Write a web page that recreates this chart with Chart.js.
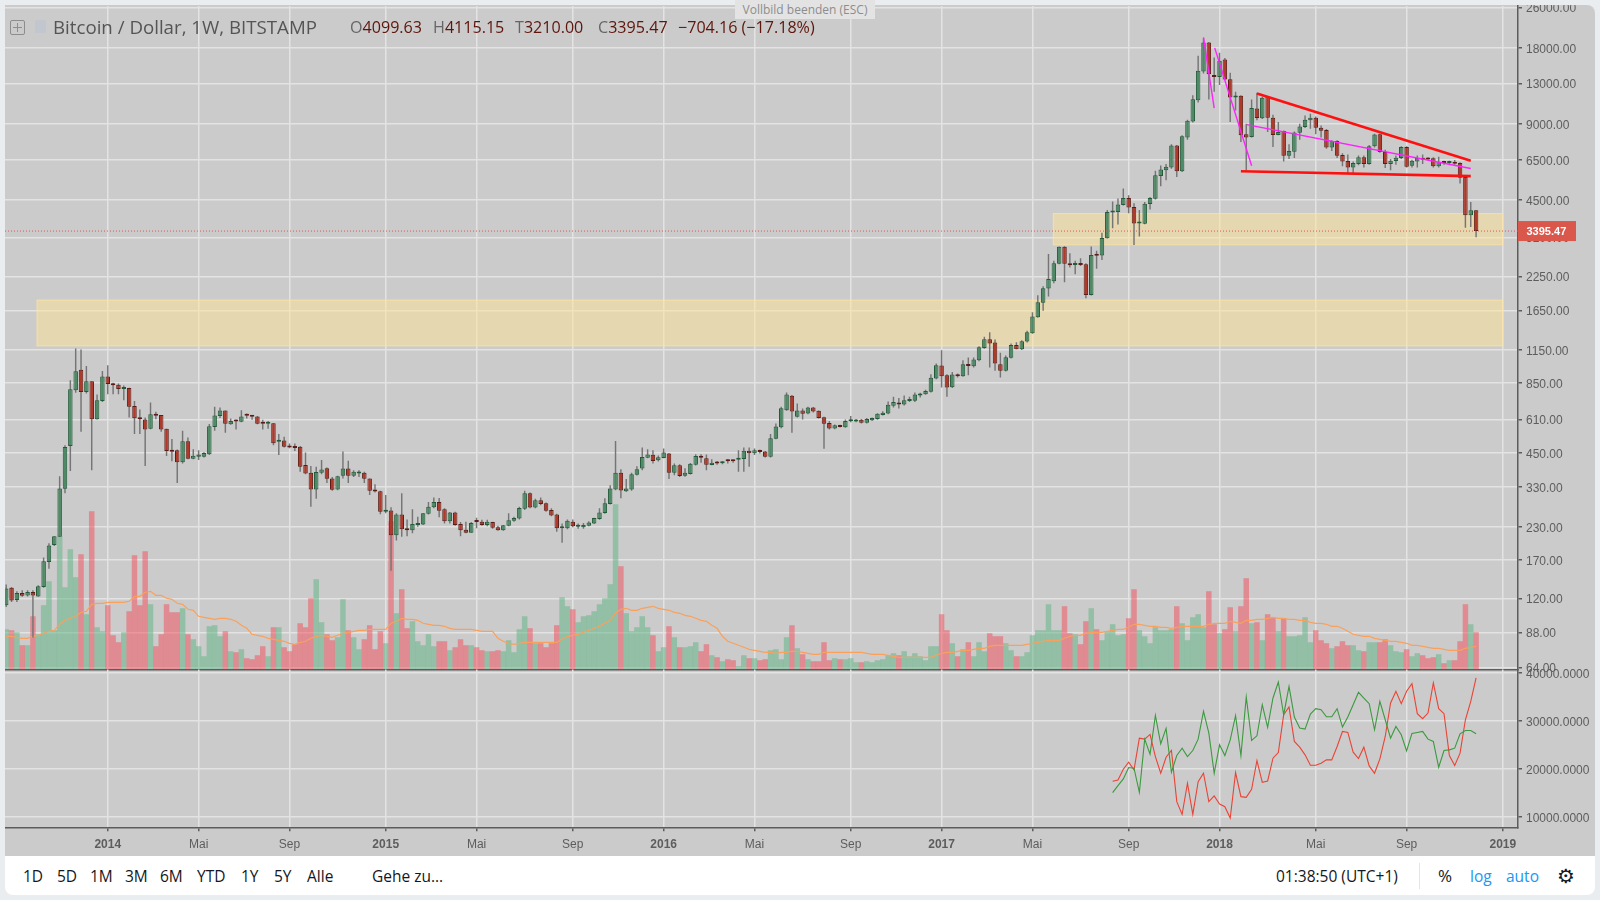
<!DOCTYPE html>
<html lang="de">
<head>
<meta charset="utf-8">
<title>Bitcoin / Dollar, 1W, BITSTAMP</title>
<script src="https://cdn.jsdelivr.net/npm/chart.js@4"></script>
<style>
  html, body { margin: 0; padding: 0; width: 1600px; height: 900px; overflow: hidden; background: #e9edf0; }
  #panel { position: absolute; left: 5px; top: 5px; width: 1590px; height: 851px; background: #cbcbcb; overflow: hidden; border-radius: 0 8px 0 0; }
  #panel canvas { position: absolute; left: 0; }
  #chartMain { top: 0; }
  #chartLower { top: 655px; }
  .txt { position: absolute; white-space: nowrap; font-family: "Open Sans", sans-serif; }
  #title { left: 53px; top: 15px; font-size: 18.7px; line-height: 24px; color: #555; }
  .ohlc { top: 15px; font-size: 16.1px; line-height: 24px; color: #5e150c; }
  .ohlc b { font-weight: 400; color: #666; }
  #plusBox { position: absolute; left: 10px; top: 20px; width: 13px; height: 13px; border: 1px solid #8d8d8d; border-radius: 2px; }
  #plusBox:before { content: ""; position: absolute; left: 2px; right: 2px; top: 6px; height: 1px; background: #8d8d8d; }
  #plusBox:after { content: ""; position: absolute; top: 2px; bottom: 2px; left: 6px; width: 1px; background: #8d8d8d; }
  #flag { position: absolute; left: 35px; top: 20px; width: 11px; height: 13px; background: #c2c6cf; }
  #esc { position: absolute; left: 735px; top: 0; width: 140px; height: 19px; background: #e3e3e3; color: #8d8d8d; font: 12px/19px "Open Sans", sans-serif; text-align: center; }
  #toolbar { position: absolute; left: 5px; top: 856px; width: 1590px; height: 39px; background: #fff; border-radius: 0 0 8px 8px; }
  #toolbar .txt { top: 9px; font-size: 15.5px; line-height: 22px; color: #131722; }
  #sep { position: absolute; left: 1414px; top: 7px; width: 1px; height: 26px; background: #e4e4e4; }
</style>
</head>
<body>
<div id="panel">
  <canvas id="chartMain" width="1590" height="675"></canvas>
  <canvas id="chartLower" width="1590" height="196"></canvas>
</div>
<div id="plusBox"></div>
<div id="flag"></div>
<div class="txt" id="title">Bitcoin / Dollar, 1W, BITSTAMP</div>
<div class="txt ohlc" style="left:350px"><b>O</b>4099.63</div>
<div class="txt ohlc" style="left:433px"><b>H</b>4115.15</div>
<div class="txt ohlc" style="left:515px"><b>T</b>3210.00</div>
<div class="txt ohlc" style="left:598px"><b>C</b>3395.47</div>
<div class="txt ohlc" style="left:678px">−704.16 (−17.18%)</div>
<div id="esc">Vollbild beenden (ESC)</div>
<div id="toolbar">
  <span class="txt" style="left:18px">1D</span>
  <span class="txt" style="left:52px">5D</span>
  <span class="txt" style="left:85px">1M</span>
  <span class="txt" style="left:120px">3M</span>
  <span class="txt" style="left:155px">6M</span>
  <span class="txt" style="left:192px">YTD</span>
  <span class="txt" style="left:236px">1Y</span>
  <span class="txt" style="left:269px">5Y</span>
  <span class="txt" style="left:302px">Alle</span>
  <span class="txt" style="left:367px">Gehe zu…</span>
  <span class="txt" style="left:1271px">01:38:50 (UTC+1)</span>
  <div id="sep"></div>
  <span class="txt" style="left:1433px;font-size:17px">%</span>
  <span class="txt" style="left:1465px;color:#2196f3">log</span>
  <span class="txt" style="left:1501px;color:#2196f3">auto</span>
  <span class="txt" style="left:1552px;font-family:'DejaVu Sans';font-size:20px">⚙</span>
</div>

<script>
// kerzen, eine pro woche
const opens = [
  112.5,132,118,126,123,127,122,133,167,195,
  210,325,480,798,960,785,866,612,722,904,
  848,838,806,813,690,622,611,562,641,636,
  561,462,462,414,501,427,435,435,445,571,
  630,663,585,607,598,637,634,628,592,587,
  590,499,504,480,474,477,404,376,323,376,
  392,357,323,366,391,366,374,376,357,321,
  318,264,267,213,257,225,223,234,235,259,
  275,288,270,242,262,236,224,218,241,241,
  234,240,229,223,232,243,248,271,312,274,
  293,285,268,257,227,227,241,230,229,232,
  237,247,261,283,323,376,318,323,369,391,
  431,443,421,430,448,376,403,366,372,405,
  439,429,404,412,410,424,422,423,426,460,
  449,458,456,435,513,569,665,758,626,663,
  645,682,661,624,591,563,578,569,601,600,
  609,593,607,613,637,645,692,713,700,722,
  724,760,769,786,888,998,914,820,922,906,
  1011,992,1048,1172,1268,1231,1011,951,1071,1204,
  1158,1241,1339,1550,1766,2012,2150,2520,2945,2533,
  2490,2510,2510,1895,2730,2720,3180,4020,4040,4300,
  4590,4230,3640,3630,4340,4560,5600,5900,6060,7390,
  5850,7950,9200,11180,14500,18880,14000,13800,16200,13520,
  11450,11630,8200,8000,10370,9480,11520,9520,8140,8440,
  6740,6990,8300,8750,9300,9530,8700,8520,7260,7710,
  6780,6420,6060,6250,6640,6250,7350,8190,6970,6250,
  6420,6600,7300,6150,6400,6600,6580,6580,6120,6370,
  6310,6370,6310,5550,3920,4099.63
];
const highs = [
  136,133,128,129,129,129,135,174,198,211,
  364,483,874,1165,1155,993,866,766,950,1001,
  854,848,832,816,722,669,622,713,655,636,
  561,512,465,551,518,466,462,453,586,686,
  682,663,616,611,665,645,637,630,610,603,
  592,535,522,491,491,480,452,400,397,422,
  395,362,366,456,420,385,385,380,357,339,
  319,307,275,260,312,246,270,252,261,288,
  300,299,272,263,264,240,241,240,250,245,
  245,241,232,234,260,252,276,319,314,297,
  300,287,272,259,237,246,246,237,238,242,
  250,272,298,336,502,388,355,376,399,473,
  466,462,440,469,450,409,406,392,411,445,
  445,444,425,419,419,426,424,462,473,473,
  469,465,459,535,589,686,781,763,707,675,
  686,684,663,626,603,583,582,611,630,613,
  613,619,622,647,659,720,751,742,760,751,
  781,779,800,922,1017,1148,922,942,928,1048,
  1074,1074,1190,1296,1352,1265,1121,1094,1220,1235,
  1257,1369,1621,1894,2056,2757,2590,2950,2960,2775,
  2590,2650,2533,2950,2840,3340,4112,4440,4570,5000,
  4700,4370,4110,4420,4630,5880,6160,6250,7480,7440,
  8120,9360,11700,16730,19600,19000,16500,17200,16400,14350,
  12060,11700,9020,11250,11950,11520,11590,9780,9160,8490,
  7480,8410,9020,9720,9870,9640,8880,8600,7760,7760,
  6890,6810,6400,6750,6750,7430,8240,8240,7110,6540,
  6750,7350,7350,6500,6750,6810,6640,6640,6680,6440,
  6440,6490,6350,5590,4420,4115.15
];
const lows = [
  110.8,116,116,121.6,122,84,121.6,132,157,193,
  210,312,382,779,546,774,385,611,716,769,
  769,769,728,622,535,535,400,559,612,546,
  438,418,343,409,425,425,422,432,442,551,
  619,541,582,557,595,616,610,585,557,561,
  483,442,473,470,459,380,371,276,297,371,
  343,319,321,357,343,362,362,343,307,314,
  258,260,154,203,210,211,217,230,234,257,
  272,251,237,237,232,211,217,218,227,232,
  231,226,222,222,231,241,246,268,272,272,
  280,264,253,220,199,225,229,226,226,231,
  236,245,259,282,321,298,316,319,367,385,
  429,409,417,429,355,368,362,363,370,402,
  412,385,403,405,406,409,412,380,380,397,
  442,448,432,432,510,564,661,541,622,611,
  641,651,616,468,557,559,568,566,596,596,
  589,589,603,609,633,641,682,675,694,716,
  716,747,765,781,881,818,751,813,896,901,
  914,980,1038,1162,980,951,896,945,1065,1158,
  1151,1231,1332,1541,1642,1871,2112,2510,2130,2435,
  2290,2470,1840,1890,2410,2610,3170,3480,3600,4280,
  3990,2990,3230,3610,4130,4530,5100,5390,5980,5550,
  5810,7800,9130,10940,14260,11250,12070,12830,13430,9160,
  10180,7640,5900,7950,9300,9420,8360,7300,8120,6400,
  6540,6600,7800,8680,8620,8190,7950,7190,7030,6600,
  6130,5760,5760,6180,6060,6210,7260,6930,6030,5900,
  6210,6540,6060,6060,6060,6250,6440,6060,6060,6210,
  6250,6210,5230,3500,3520,3210
];
const closes = [
  131,117.7,126,122.7,127,123,134,168,194,211,
  326,476,804,947,785,866,612,728,904,843,
  835,806,813,686,618,612,557,641,632,557,
  459,455,414,501,427,439,444,450,575,633,
  663,587,603,600,628,632,626,587,587,592,
  492,506,477,473,471,397,374,323,379,387,
  356,322,364,391,366,380,380,356,319,317,
  264,268,213,257,225,223,236,237,260,276,
  288,266,242,262,234,223,218,238,240,234,
  241,228,223,233,244,249,273,312,274,293,
  283,266,255,227,229,243,231,232,234,239,
  249,262,285,326,376,320,326,371,388,434,
  444,419,433,452,376,403,365,376,408,438,
  431,405,412,409,416,418,418,429,460,449,
  462,454,435,515,573,677,767,657,663,643,
  682,657,619,587,563,580,571,603,611,609,
  593,613,619,643,649,698,716,700,728,731,
  767,774,791,893,1001,906,818,920,906,1011,
  995,1054,1180,1268,1220,1017,951,1077,1204,1158,
  1245,1352,1560,1777,2019,2192,2533,2945,2520,2485,
  2520,2490,1895,2730,2710,3190,4040,4060,4320,4590,
  4210,3640,3670,4350,4590,5640,5950,6100,7390,5850,
  8050,9270,11270,14600,18880,14150,13800,16000,13500,11450,
  11630,8120,7960,10400,9500,11420,9520,8140,8360,6740,
  7030,8320,8800,9360,9530,8700,8460,7260,7710,6740,
  6400,6060,6310,6640,6250,7350,8170,6970,6250,6440,
  6620,7300,6100,6440,6600,6500,6520,6120,6350,6310,
  6370,6270,5510,3920,4100,3395.47
];

// volumen, einheit frei gewaehlt da keine achse im bild
const volumes = [
  40,39,37,24,24,53,35,64,88,39,
  133,82,120,92,115,55,158,42,38,64,
  34,27,37,58,114,64,118,65,23,35,
  65,57,57,61,35,30,23,13,43,44,
  33,38,18,17,20,11,10,14,23,13,
  42,42,22,18,25,46,42,71,90,47,
  35,29,32,70,39,32,20,30,44,20,
  38,26,148,56,80,41,48,28,24,35,
  23,28,28,19,22,30,24,24,22,19,
  18,18,19,18,29,17,40,53,41,26,
  26,22,26,44,72,63,60,47,53,54,
  58,65,71,85,165,103,56,38,42,53,
  42,34,18,22,43,32,22,22,23,27,
  18,25,14,12,8,10,9,3,14,11,
  11,9,10,19,20,10,32,44,21,15,
  10,8,8,27,9,11,10,10,11,7,
  7,8,7,9,10,14,16,14,18,13,
  16,13,9,23,23,55,39,26,13,20,
  27,13,27,18,36,33,33,26,19,13,
  13,17,34,39,39,65,39,39,63,36,
  35,25,48,61,40,29,38,45,34,35,
  51,80,39,33,26,42,39,39,40,63,
  46,29,52,55,42,78,45,36,40,62,
  38,63,91,46,47,29,55,52,38,51,
  33,33,34,52,27,39,29,26,21,23,
  28,24,24,19,18,27,27,27,30,24,
  18,17,20,13,16,14,11,12,15,6,
  9,9,28,65,45,37
];
const volumeMa = [
  33,33,32,31,31,33,34,36,38,39,45,49,51,53,57,58,65,66,66,67,67,67,67,68,73,
  73,77,78,74,74,71,70,66,65,60,59,53,52,51,50,51,51,50,48,44,41,35,34,33,31,
  30,29,28,26,25,27,28,31,33,34,33,32,34,36,37,38,39,39,40,40,40,40,46,48,
  51,50,50,49,46,45,44,44,43,41,40,40,40,40,39,38,38,38,31,28,26,25,26,27,27,
  27,27,27,27,27,30,33,34,35,37,39,41,43,46,49,56,60,61,59,59,61,62,63,61,60,
  59,57,56,54,53,51,49,48,44,41,33,28,26,24,22,20,19,18,17,17,16,
  17,17,18,18,17,16,15,15,17,17,17,17,17,17,17,17,16,15,15,15,14,13,12,12,12,
  12,12,12,12,14,16,17,17,18,19,19,20,21,21,23,24,24,24,24,24,24,25,26,27,28,
  29,29,29,31,33,34,34,36,37,37,37,38,39,40,40,42,45,45,44,43,43,
  42,42,41,42,43,43,43,43,43,45,46,46,46,48,47,46,49,49,50,50,51,52,51,51,50,
  50,49,49,47,46,46,45,43,43,41,38,35,34,33,33,31,30,29,28,28,27,26,24,24,23,
  22,21,21,20,19,19,19,21,22,23
];

// unterer bereich, beginnt erst bei kerze 207
const lowerStart = 207;
const lowerGreen = [
  15030,16490,17890,20260,20120,15100,26190,23050,31150,25220,
  28430,19280,22770,24310,22560,23820,26190,31990,27450,19070,
  25010,22770,26050,31080,22770,34990,25910,26890,33380,28640,
  34780,38130,31290,37220,30800,28500,28290,31430,32550,32340,
  30870,30870,32550,28710,30800,33380,35970,34780,33590,28150,
  34080,30240,26400,28850,27100,23750,27380,27590,27800,26190,
  25710,20330,23820,23960,24310,27310,28010,28010,27310
];
const lowerRed = [
  17400,17680,19910,21380,19770,26400,26190,27170,22560,19070,
  22420,23820,13140,10490,16980,10490,17330,19070,13140,14330,
  12650,12090,9720,19210,14190,14050,15720,21730,17190,17470,
  22220,23400,31290,32890,25710,24520,22910,20750,20750,21170,
  21870,21870,24660,27800,27590,23470,22150,24520,20610,19070,
  22080,26750,33730,36180,33590,36180,37780,31500,30450,31640,
  37920,32550,31500,22770,20680,23260,30240,34080,38970
];

// achsen
const priceTicks = [26000,18000,13000,9000,6500,4500,3200,2250,1650,1150,850,610,450,330,230,170,120,88,64];
const lowerTicks = [40000,30000,20000,10000];
const timeTicks = [19,36,53,71,88,106,123,140,158,175,192,210,227,245,262,280];
const timeLabels = ['2014','Mai','Sep','2015','Mai','Sep','2016','Mai','Sep','2017','Mai','Sep','2018','Mai','Sep','2019'];
const xMin = -0.225, xMax = 282.84;
const priceMin = 62.85, priceMax = 26340;
const volumeMax = 663.3;
const lowerMin = 7790, lowerMax = 40730;

// zeichnungen: [kerze, preis]
const trendTop = [[234, 11880], [274, 6440]];
const trendBottom = [[231, 5850], [274, 5600]];
const fanA = [[224, 19780], [226, 10400]];
const fanB = [[226.1, 17990], [233, 6150]];
const fanC = [[232.1, 8950], [274, 6000]];
// gelbe zonen: von kerze, bis kerze, preis oben, preis unten
const zoneLow = [5.76, 280, 1811, 1194];
const zoneHigh = [195.9, 280, 3980, 2997];

const lastClose = closes[closes.length - 1];
const fontFamily = '"Liberation Sans", Arial, sans-serif';

const istGruen = closes.map((c, i) => c >= opens[i]);
const zuPunkten = (paar) => paar.map(([x, y]) => ({ x, y }));

const gridFarbe = '#e3e3e3';
const achsenFarbe = '#5c5c5c';
const textFarbe = '#5d5d5d';

function xAchse(mitLabels) {
  return {
    type: 'linear',
    min: xMin,
    max: xMax,
    offset: false,
    afterBuildTicks: (s) => { s.ticks = timeTicks.map((v) => ({ value: v })); },
    afterFit: (s) => { s.height = mitLabels ? 28.7 : 0; s.paddingLeft = 0; s.paddingRight = 0; },
    border: { display: true, color: achsenFarbe, width: 1.5 },
    grid: { color: gridFarbe, lineWidth: 1.5, offset: false, drawTicks: mitLabels, tickColor: achsenFarbe, tickLength: 4 },
    ticks: {
      display: mitLabels,
      autoSkip: false,
      maxRotation: 0,
      padding: 6,
      color: textFarbe,
      font: (ctx) => {
        const label = timeLabels[timeTicks.indexOf(ctx.tick ? ctx.tick.value : -1)] || '';
        return { family: fontFamily, size: 12, weight: /^\d/.test(label) ? 'bold' : 'normal' };
      },
      callback: (v) => timeLabels[timeTicks.indexOf(v)] || ''
    }
  };
}

function yAchse(typ, min, max, werte, stellen) {
  return {
    type: typ,
    position: 'right',
    min,
    max,
    afterBuildTicks: (s) => { s.ticks = werte.map((v) => ({ value: v })); },
    afterFit: (s) => { s.width = 77; s.paddingTop = 0; s.paddingBottom = 0; },
    border: { display: true, color: achsenFarbe, width: 1.5 },
    grid: { color: gridFarbe, lineWidth: 1.5, tickColor: achsenFarbe, tickLength: 4 },
    ticks: {
      autoSkip: false,
      padding: 4,
      labelOffset: 1.5,
      color: textFarbe,
      font: { family: fontFamily, size: 12 },
      callback: (v) => Number(v).toFixed(stellen)
    }
  };
}

// zonen liegen unter den kerzen, aber ueber dem gitter
const zonenPlugin = {
  id: 'zonen',
  beforeDatasetsDraw(chart) {
    const { ctx, scales } = chart;
    [zoneLow, zoneHigh].forEach(([x0, x1, oben, unten]) => {
      const l = scales.x.getPixelForValue(x0);
      const r = scales.x.getPixelForValue(x1);
      const t = scales.y.getPixelForValue(oben);
      const b = scales.y.getPixelForValue(unten);
      ctx.save();
      ctx.fillStyle = 'rgba(255,228,150,0.5)';
      ctx.strokeStyle = 'rgba(255,230,160,0.75)';
      ctx.lineWidth = 1;
      ctx.fillRect(l, t, r - l, b - t);
      ctx.strokeRect(l, t, r - l, b - t);
      ctx.restore();
    });
  }
};

// roter kasten mit dem letzten kurs an der achse
const kursLabelPlugin = {
  id: 'kursLabel',
  afterDraw(chart) {
    const { ctx, chartArea, scales } = chart;
    const y = scales.y.getPixelForValue(lastClose);
    ctx.save();
    ctx.fillStyle = '#d9574b';
    ctx.fillRect(chartArea.right, y - 10, 58, 20);
    ctx.fillStyle = '#ffffff';
    ctx.font = 'bold 11px ' + fontFamily;
    ctx.textBaseline = 'middle';
    ctx.fillText(lastClose.toFixed(2), chartArea.right + 8.5, y + 0.5);
    ctx.restore();
  }
};

const balken = (daten, extra) => Object.assign({
  type: 'bar',
  data: daten,
  grouped: false,
  categoryPercentage: 1,
  yAxisID: 'y'
}, extra);

const linie = (daten, farbe, breite, extra) => Object.assign({
  type: 'line',
  data: daten,
  borderColor: farbe,
  borderWidth: breite,
  pointRadius: 0,
  tension: 0,
  fill: false,
  yAxisID: 'y',
  order: 0
}, extra);

const chartMain = new Chart(document.getElementById('chartMain'), {
  type: 'bar',
  data: {
    datasets: [
      balken(volumes.map((v, i) => ({ x: i, y: v })), {
        yAxisID: 'yVol',
        barPercentage: 1,
        inflateAmount: 0.07,
        backgroundColor: istGruen.map((g) => g ? 'rgba(89,179,127,0.5)' : 'rgba(243,75,87,0.5)'),
        order: 6
      }),
      linie(volumeMa.map((v, i) => ({ x: i, y: v })), '#f9a15c', 1.2, { yAxisID: 'yVol', order: 5 }),
      balken(highs.map((h, i) => ({ x: i, y: [lows[i], h] })), {
        barPercentage: 0.27,
        backgroundColor: '#757575',
        order: 4
      }),
      balken(opens.map((o, i) => ({ x: i, y: [o, closes[i]] })), {
        barPercentage: 0.84,
        minBarLength: 2,
        backgroundColor: istGruen.map((g) => g ? '#4d8a65' : '#b0392a'),
        borderColor: istGruen.map((g) => g ? '#235a3a' : '#5c1d16'),
        borderWidth: 1,
        borderSkipped: false,
        order: 3
      }),
      linie(zuPunkten([[xMin, lastClose], [xMax, lastClose]]), '#e2574c', 1, { borderDash: [1, 2], order: 2 }),
      linie(zuPunkten(fanA), '#ff22ff', 1.4),
      linie(zuPunkten(fanB), '#ff22ff', 1.4),
      linie(zuPunkten(fanC), '#ff22ff', 1.4),
      linie(zuPunkten(trendTop), '#ff1010', 2.6),
      linie(zuPunkten(trendBottom), '#ff1010', 2.6)
    ]
  },
  options: {
    responsive: false,
    animation: false,
    events: [],
    layout: { padding: { top: 1, bottom: 10.7, left: 0, right: 0 } },
    plugins: { legend: { display: false }, tooltip: { enabled: false } },
    scales: {
      x: xAchse(false),
      y: yAchse('logarithmic', priceMin, priceMax, priceTicks, 2),
      yVol: { type: 'linear', display: false, position: 'right', min: 0, max: volumeMax }
    }
  },
  plugins: [zonenPlugin, kursLabelPlugin]
});

const chartLower = new Chart(document.getElementById('chartLower'), {
  type: 'line',
  data: {
    datasets: [
      linie(lowerGreen.map((v, i) => ({ x: lowerStart + i, y: v })), '#3c993f', 1.1),
      linie(lowerRed.map((v, i) => ({ x: lowerStart + i, y: v })), '#ea4335', 1.1)
    ]
  },
  options: {
    responsive: false,
    animation: false,
    events: [],
    layout: { padding: { top: 9.5, bottom: 0, left: 0, right: 0 } },
    plugins: { legend: { display: false }, tooltip: { enabled: false } },
    scales: {
      x: xAchse(true),
      y: yAchse('linear', lowerMin, lowerMax, lowerTicks, 4)
    }
  }
});
</script>
</body>
</html>
